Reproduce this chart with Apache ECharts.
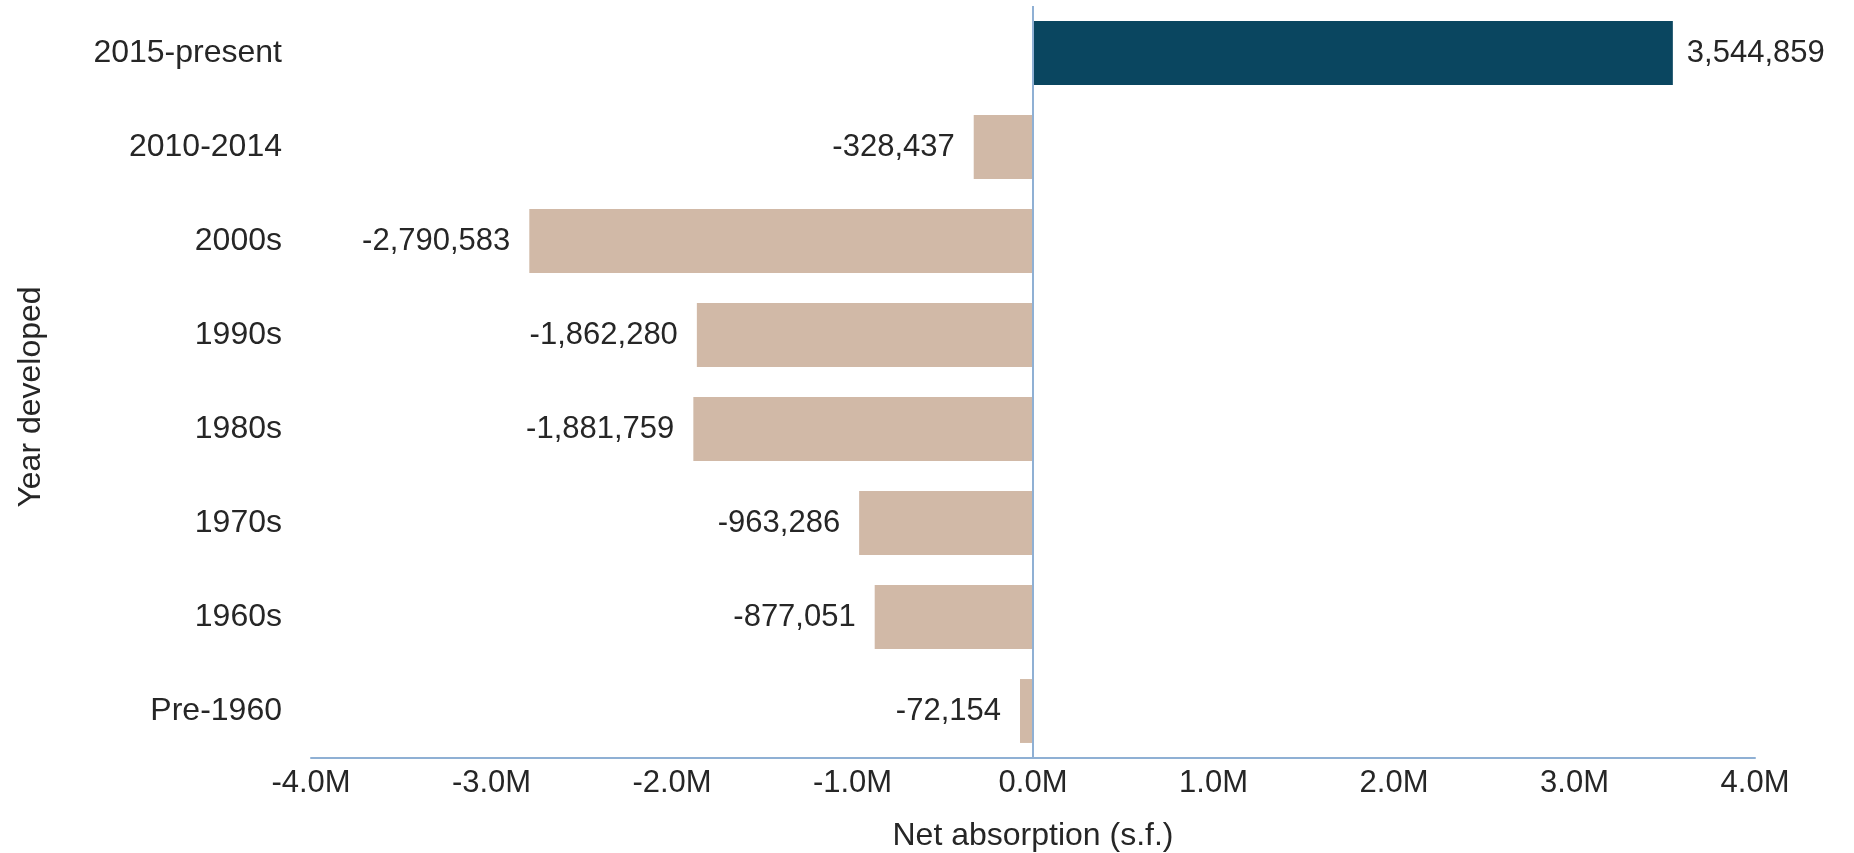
<!DOCTYPE html>
<html>
<head>
<meta charset="utf-8">
<style>
  html, body { margin: 0; padding: 0; background: #fff; }
  #chart { width: 1854px; height: 853px; }
</style>
<script src="https://cdn.jsdelivr.net/npm/echarts@6/dist/echarts.min.js"></script>
</head>
<body>
<div id="chart"></div>
<script>
// data
var categories = ["2015-present", "2010-2014", "2000s", "1990s", "1980s", "1970s", "1960s", "Pre-1960"];
var absorption = [3544859, -328437, -2790583, -1862280, -1881759, -963286, -877051, -72154];

var posColor = "#0a4660";
var negColor = "#d1b9a7";
var lineColor = "#8fb0d4";
var textColor = "#262626";
var font = "Liberation Sans, Arial, sans-serif";

var chart = echarts.init(document.getElementById("chart"));

// negative bars get their labels on the left
var barData = absorption.map(function (v) {
  return v < 0 ? { value: v, label: { position: "left", distance: 19 } } : v;
});

var option = {
  backgroundColor: "#fff",
  animation: false,
  grid: { left: 311, right: 99, top: 6, bottom: 95, outerBoundsMode: "none" },
  xAxis: {
    type: "value",
    min: -4000000,
    max: 4000000,
    interval: 1000000,
    name: "Net absorption (s.f.)",
    nameLocation: "middle",
    nameGap: 62,
    nameTextStyle: { color: textColor, fontSize: 32, fontFamily: font },
    axisLine: { show: true, lineStyle: { color: lineColor, width: 2 } },
    axisTick: { show: false },
    splitLine: { show: false },
    axisLabel: {
      color: textColor, fontSize: 31, fontFamily: font, margin: 10,
      formatter: function (v) { return (v / 1e6).toFixed(1) + "M"; }
    }
  },
  yAxis: {
    type: "category",
    data: categories,
    inverse: true,
    name: "Year developed",
    nameLocation: "middle",
    nameGap: 264,
    nameRotate: 90,
    nameTextStyle: { color: textColor, fontSize: 32, fontFamily: font, padding: [0, 30, 0, 0] },
    axisLine: { show: false, onZero: false },
    axisTick: { show: false },
    axisLabel: { color: textColor, fontSize: 32, fontFamily: font, margin: 29 }
  },
  series: [{
    type: "bar",
    data: barData,
    barCategoryGap: "32%",
    itemStyle: {
      color: function (p) { return p.value >= 0 ? posColor : negColor; }
    },
    label: {
      show: true,
      position: "right",
      distance: 14,
      color: textColor,
      fontSize: 31,
      fontFamily: font,
      formatter: function (p) { return p.value.toLocaleString("en-US"); }
    },
    markLine: {
      silent: true,
      symbol: "none",
      label: { show: false },
      lineStyle: { color: lineColor, width: 2, type: "solid" },
      data: [{ xAxis: 0 }]
    }
  }]
};

chart.setOption(option);
</script>
</body>
</html>
